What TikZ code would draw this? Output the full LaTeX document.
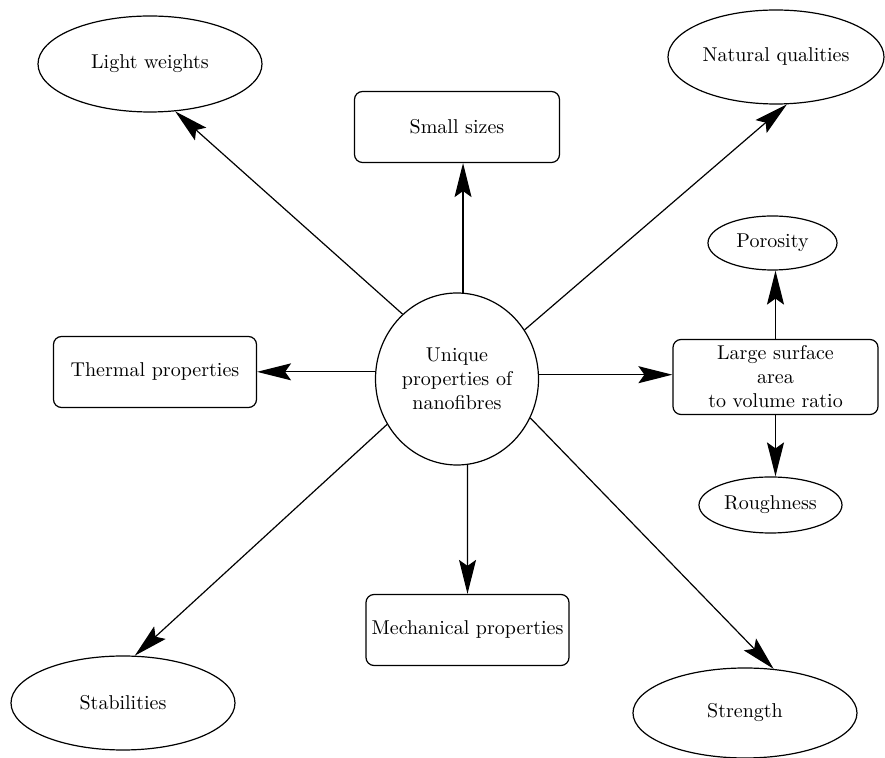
\documentclass[tikz,border=0pt]{standalone}
\usepackage{tikz}
\usetikzlibrary{arrows.meta,shapes.geometric}
\tikzset{
  prop/.style={draw,rounded corners=4pt,align=center,minimum width=101.5pt,
               minimum height=35.5pt,inner sep=2pt},   % rectangular property
  oval/.style={draw,ellipse,align=center,minimum width=112pt,
               minimum height=47pt,inner sep=0pt},      % elliptic property
  hub/.style={draw,ellipse,align=center,minimum width=81.5pt,
              minimum height=86pt,inner sep=0pt},
  ar/.style={-{Stealth[length=17pt,width=8.5pt,inset=3pt]}}
}

\begin{document}
\begin{tikzpicture}[x=0.5pt,y=-0.5pt,line width=0.6pt]
  \useasboundingbox (0,0) rectangle (885,758);
  \node[hub] (cen) at (457,379) {Unique\\properties of\\nanofibres};
  \node[oval,minimum height=48pt] (lw) at (150,64) {Light weights};
  \node[prop,minimum width=102.5pt] (small) at (457,127) {Small sizes};
  \node[oval,minimum width=108pt] (nat) at (776,57) {Natural qualities};
  \node[prop] (therm) at (155,372) {Thermal properties};
  \node[prop,minimum width=102.5pt,minimum height=37.5pt,inner sep=1pt] (surf) at (775.5,377) {Large surface\\area\\to volume ratio};
  \node[oval,minimum width=64.5pt,minimum height=27pt] (por) at (772.5,243) {Porosity};
  \node[oval,minimum width=71.5pt,minimum height=28pt] (rough) at (770.5,505) {Roughness};
  \node[prop] (mech) at (467.5,630) {Mechanical properties};
  \node[oval] (stab) at (123,703) {Stabilities};
  \node[oval,minimum height=45pt] (str) at (745,713) {Strength};
  % spokes
  \draw[ar] (cen.130) -- (lw.-62);
  \draw[ar] (cen.86) -- (cen.86 |- small.south);
  \draw[ar] (cen.36) -- (nat.-77);
  \draw[ar] (cen.175) -- (cen.175 -| therm.east);
  \draw[ar] (cen.3) -- (cen.3 -| surf.west);
  \draw[ar] (cen.-83) -- (mech.north);
  \draw[ar] (cen.213) -- (stab.76);
  \draw[ar] (cen.-28) -- (str.57);
  % surface area branches
  \draw[ar] (surf.north) -- (surf.north |- por.south);
  \draw[ar] (surf.south) -- (surf.south |- rough.north);
\end{tikzpicture}
\end{document}
